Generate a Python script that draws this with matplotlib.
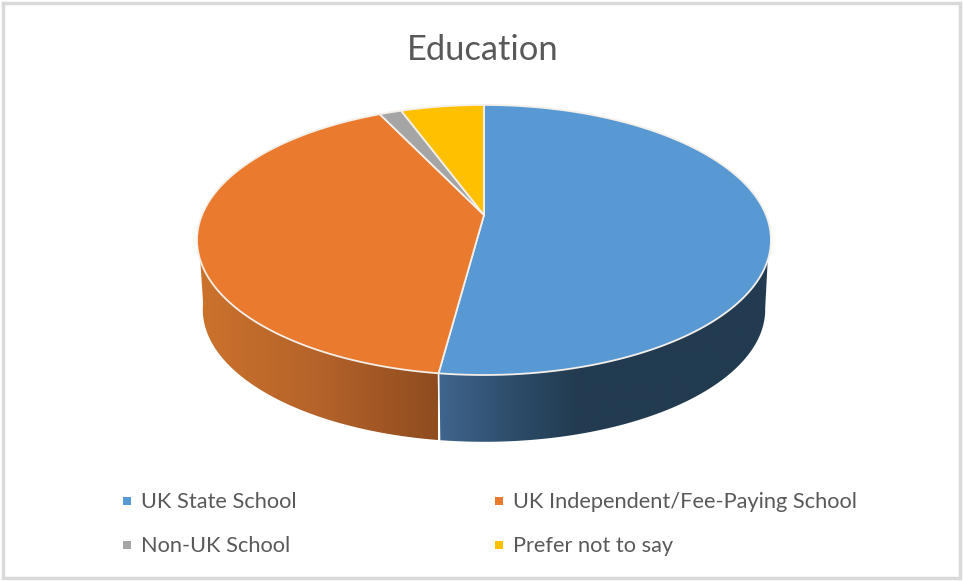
#!/usr/bin/env python

import numpy as np
import matplotlib
matplotlib.use('Agg')
import matplotlib.pyplot as plt
from matplotlib.colors import LinearSegmentedColormap
from matplotlib.patches import Polygon, Rectangle

title = 'Education'
labels = ['UK State School', 'UK Independent/Fee-Paying School', 'Non-UK School', 'Prefer not to say']
values = [52.1, 40.8, 1.5, 5.6]
colors = ['#5899D4', '#EA7A2E', '#A5A5A5', '#FFC000']

# pixel geometry of the tilted disc
cx, top_y, bot_y = 484.0, 215.0, 285.0
persp = 0.185
rad_x, rad_y = 282.0, 130.4
bot_scale = 0.98
text_col = '#595959'


def rim(theta, y0=top_y, s=1.0):
    # theta in degrees clockwise from 12 o'clock
    t = np.radians(theta)
    u, v = np.sin(t), np.cos(t)
    d = 1 + persp * v
    return cx + s * rad_x * u / d, y0 - s * rad_y * v / d


def wall(ax, t0, t1, b0, b1, cmap, x0, x1):
    xt, yt = rim(np.linspace(t0, t1, 120))
    xb, yb = rim(np.linspace(b0, b1, 120), bot_y, bot_scale)
    pts = np.vstack([np.column_stack([xt, yt]), np.column_stack([xb, yb])[::-1]])
    poly = Polygon(pts, closed=True, fc='none', ec='none')
    ax.add_patch(poly)
    grad = np.linspace(0, 1, 256).reshape(1, -1)
    im = ax.imshow(grad, cmap=cmap, extent=(x0, x1, 450, 250), aspect='auto', zorder=2)
    im.set_clip_path(poly)


fig = plt.figure(figsize=(9.63, 5.81), dpi=100)
ax = fig.add_axes([0, 0, 1, 1])

ax.add_patch(Rectangle((3, 3), 957, 575, fc='white', ec='#D9D9D9', lw=2.5))

edges = np.concatenate([[0], np.cumsum(values)]) / np.sum(values) * 360
blue_end = edges[1]

# side walls, only the two big slices show at the front
cmap_blue = LinearSegmentedColormap.from_list('b', [(0, '#40668E'), (0.2, '#2F4F6E'), (0.42, '#223B50'), (1, '#223B50')])
cmap_orange = LinearSegmentedColormap.from_list('o', ['#CC722C', '#B5632A', '#8F4C1F'])
wall(ax, 109, blue_end, 100, blue_end, cmap_blue, 438, 771)
wall(ax, blue_end, 251, blue_end, 262, cmap_orange, 197, 438)

ax.set_xlim(0, 963)
ax.set_ylim(581, 0)
ax.axis('off')

# seam between the two walls
xa, ya = rim(blue_end)
xc, yc = rim(blue_end, bot_y, bot_scale)
ax.plot([xa, xc], [ya, yc], color='white', lw=1.2, zorder=3)

# top face
for i in range(len(values)):
    xs, ys = rim(np.linspace(edges[i], edges[i + 1], 200))
    pts = np.vstack([[cx, top_y], np.column_stack([xs, ys])])
    ax.add_patch(Polygon(pts, closed=True, fc=colors[i], ec='#F4EFE9', lw=1.3, zorder=4, joinstyle='round'))

ax.text(483, 50, title, fontsize=24.8, family='Lato', color=text_col, ha='center', va='center')

leg_x = [127, 499, 127, 499]
leg_y = [501, 501, 545, 545]
for i in range(len(labels)):
    ax.add_patch(Rectangle((leg_x[i] - 4, leg_y[i] - 4), 8, 8, fc=colors[i], ec='none'))
    ax.text(leg_x[i] + 14, leg_y[i] + 1.5, labels[i], fontsize=15.7, family='Lato', color=text_col, ha='left', va='center')

fig.savefig('out.png', dpi=100)
